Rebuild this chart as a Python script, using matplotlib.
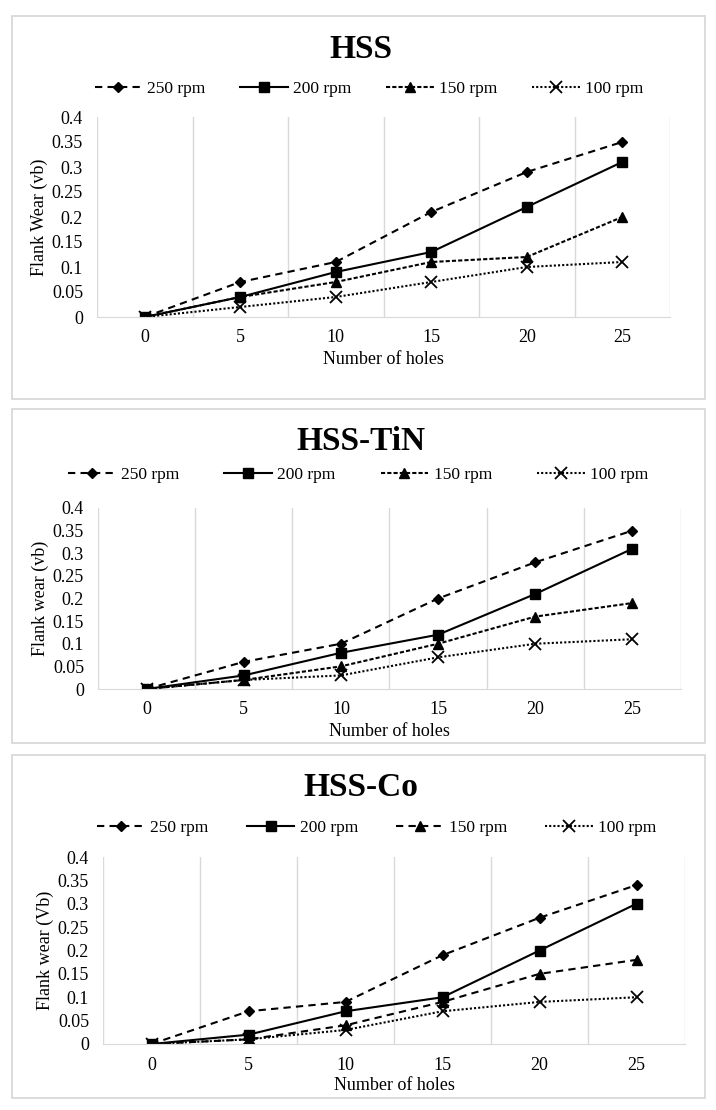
import numpy as np
import matplotlib
matplotlib.use("Agg")
from matplotlib import pyplot as plt
from matplotlib.patches import Rectangle

plt.rcParams['font.family'] = ['Liberation Serif', 'DejaVu Serif']

holes = ['0', '5', '10', '15', '20', '25']
labels = ['250 rpm', '200 rpm', '150 rpm', '100 rpm']

# flank wear per tool, one list per spindle speed
hss = [[0, 0.07, 0.11, 0.21, 0.29, 0.35],
       [0, 0.04, 0.09, 0.13, 0.22, 0.31],
       [0, 0.04, 0.07, 0.11, 0.12, 0.20],
       [0, 0.02, 0.04, 0.07, 0.10, 0.11]]
hss_tin = [[0, 0.06, 0.10, 0.20, 0.28, 0.35],
           [0, 0.03, 0.08, 0.12, 0.21, 0.31],
           [0, 0.02, 0.05, 0.10, 0.16, 0.19],
           [0, 0.02, 0.03, 0.07, 0.10, 0.11]]
hss_co = [[0, 0.07, 0.09, 0.19, 0.27, 0.34],
          [0, 0.02, 0.07, 0.10, 0.20, 0.30],
          [0, 0.01, 0.04, 0.09, 0.15, 0.18],
          [0, 0.01, 0.03, 0.07, 0.09, 0.10]]

titles = ['HSS', 'HSS-TiN', 'HSS-Co']
ylabels = ['Flank Wear (vb)', 'Flank wear (vb)', 'Flank wear (Vb)']
yticks = [0, 0.05, 0.1, 0.15, 0.2, 0.25, 0.3, 0.35, 0.4]
ytick_labels = ['0', '0.05', '0.1', '0.15', '0.2', '0.25', '0.3', '0.35', '0.4']

W, H = 716, 1110
fig = plt.figure(figsize=(W / 100, H / 100), dpi=100)

# pixel layout per panel:
# box top, box bottom, title y, legend y, legend x centre, column spacing,
# ax left, ax right, ax top, ax bottom, xlabel y
layout = [
    (16, 399, 49, 89, 369, 2.0, 97, 670, 117, 317, 359),
    (409, 743, 442, 475, 358, 2.6, 98, 681, 508, 689, 731),
    (755, 1098, 787, 828, 377, 2.2, 103, 685, 857, 1044, 1085),
]

markers = ['D', 's', '^', 'x']
msizes = [5, 7.5, 7, 8]
dash_150 = [(0, (2, 1)), (0, (2, 1)), (0, (3.5, 2.5))]
styles_base = [(0, (3.5, 2.5)), '-', None, (0, (1, 1))]

def fy(py):
    return 1 - py / H

for i, data in enumerate([hss, hss_tin, hss_co]):
    bt, bb, ty, ly, lx, cs, al, ar, at, ab, xly = layout[i]
    fig.patches.append(Rectangle((12 / W, fy(bb)), (705 - 12) / W, (bb - bt) / H,
                                 transform=fig.transFigure, fill=False,
                                 edgecolor='#d9d9d9', linewidth=1.3))
    ax = fig.add_axes([al / W, fy(ab), (ar - al) / W, (ab - at) / H])
    x = np.arange(len(holes))
    lines = []
    for j, series in enumerate(data):
        ls = styles_base[j] if j != 2 else dash_150[i]
        ln, = ax.plot(x, series, color='black', linestyle=ls, linewidth=1.5,
                      marker=markers[j], markersize=msizes[j],
                      markeredgewidth=1.3 if j == 3 else 1.0, label=labels[j])
        lines.append(ln)
    ax.set_xlim(-0.5, len(holes) - 0.5)
    ax.set_ylim(0, 0.4)
    ax.set_xticks(x)
    ax.set_xticklabels(holes)
    ax.set_yticks(yticks)
    ax.set_yticklabels(ytick_labels)
    ax.set_xticks(np.arange(-0.5, len(holes)), minor=True)
    ax.grid(which='minor', axis='x', color='#d9d9d9', linewidth=1)
    ax.tick_params(which='both', length=0, labelsize=13)
    ax.tick_params(axis='x', pad=9)
    ax.tick_params(axis='y', pad=10)
    for s in ['top', 'right', 'left']:
        ax.spines[s].set_visible(False)
    ax.spines['bottom'].set_color('#d9d9d9')
    ax.set_ylabel(ylabels[i], fontsize=13, labelpad=3)
    fig.text(0.5 * (al + ar) / W, fy(xly), 'Number of holes',
             ha='center', va='center', fontsize=13)
    fig.text(361 / W, fy(ty), titles[i], ha='center', va='center',
             fontsize=24, fontweight='bold')
    ax.legend(handles=lines, loc='center', bbox_to_anchor=(lx / W, fy(ly)),
              bbox_transform=fig.transFigure, ncol=4, frameon=False, fontsize=12.5,
              handlelength=2.75, handletextpad=0.3, columnspacing=cs)

fig.savefig('out.png', dpi=100)
